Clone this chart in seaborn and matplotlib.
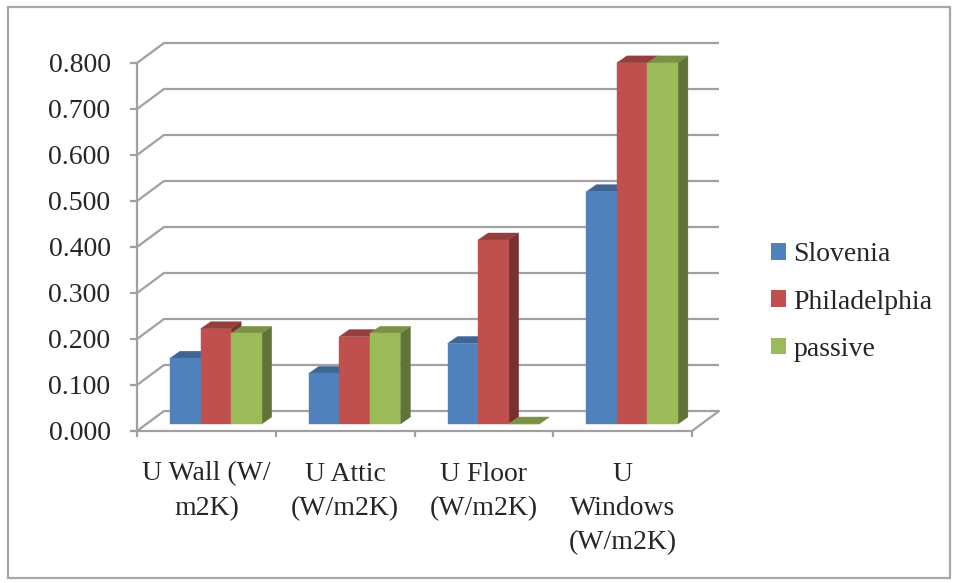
import numpy as np
import pandas as pd
import matplotlib.pyplot as plt
import seaborn as sns
from matplotlib.patches import Polygon, Rectangle, Patch
import matplotlib.colors as mcolors

# Données
categories = ['U Wall (W/\nm2K)', 'U Attic\n(W/m2K)', 'U Floor\n(W/m2K)', 'U\nWindows\n(W/m2K)']
series = ['Slovenia', 'Philadelphia', 'passive']
slovenia = [0.143, 0.110, 0.175, 0.505]
philadelphia = [0.207, 0.190, 0.400, 0.785]
passive = [0.197, 0.197, 0.000, 0.785]
colors = ['#4F81BD', '#C0504D', '#9BBB59']
yticks = [0.0, 0.1, 0.2, 0.3, 0.4, 0.5, 0.6, 0.7, 0.8]

df = pd.DataFrame({
    'cat': categories * 3,
    'series': np.repeat(series, len(categories)),
    'value': slovenia + philadelphia + passive,
})

sns.set_style('white')
plt.rcParams['font.family'] = ['Liberation Serif', 'DejaVu Serif']
grid_col = '#A0A0A0'

fig = plt.figure(figsize=(9.58, 5.83), dpi=100)
ax = fig.add_axes([137 / 958, 152 / 583, 555 / 958, 368 / 583])
sns.barplot(data=df, x='cat', y='value', hue='series', palette=colors,
            saturation=1, width=0.66, gap=0, legend=False, ax=ax,
            linewidth=0, edgecolor='none')
ax.set_xlim(-0.5, 3.5)
ax.set_ylim(0, 0.8)

# pixels -> unités de données
p0 = ax.transData.transform((0, 0))
p1 = ax.transData.transform((1, 1))
sx, sy = p1[0] - p0[0], p1[1] - p0[1]
def off(px, py):
    return px / sx, py / sy

bx, by = off(9.5, 7)     # plan des barres
ddx, ddy = off(10, 7)    # profondeur des barres
gx, gy = off(27, 20)     # mur du fond

# grille en perspective
for v in yticks:
    ax.plot([-0.5, -0.5 + gx, 3.5 + gx], [v, v + gy, v + gy], color=grid_col,
            lw=1.6, clip_on=False, zorder=1, solid_capstyle='butt')
ax.plot([3.5, 3.5 + gx], [0, gy], color=grid_col, lw=1.6, clip_on=False, zorder=1)

# barres 3D
bars = sorted(ax.patches, key=lambda r: r.get_x())
for i, r in enumerate(bars):
    x0, w, h = r.get_x(), r.get_width(), r.get_height()
    fc = np.array(mcolors.to_rgb(r.get_facecolor()))
    xl = x0 + bx
    x1 = xl + w
    side = fc * 0.62
    top = fc * 0.78
    z = 3 + i * 0.1
    ax.add_patch(Polygon([(x1, by), (x1 + ddx, by + ddy), (x1 + ddx, by + h + ddy), (x1, by + h)],
                         closed=True, facecolor=side, edgecolor=side, lw=0.3, clip_on=False, zorder=z))
    ax.add_patch(Polygon([(xl, by + h), (x1, by + h), (x1 + ddx, by + h + ddy), (xl + ddx, by + h + ddy)],
                         closed=True, facecolor=top, edgecolor=top, lw=0.3, clip_on=False, zorder=z + 0.01))
    r.set_x(xl)
    r.set_y(by)
    r.set_edgecolor(fc)
    r.set_linewidth(0.3)
    r.set_clip_on(False)
    r.set_zorder(z + 0.02)

# axes
for s in ['top', 'right']:
    ax.spines[s].set_visible(False)
for s in ['left', 'bottom']:
    ax.spines[s].set_color(grid_col)
    ax.spines[s].set_linewidth(1.6)
    ax.spines[s].set_zorder(6)
ax.set_yticks(yticks)
ax.set_yticklabels([f'{v:.3f}' for v in yticks], fontsize=20)
ax.tick_params(axis='y', length=5, width=1.6, color=grid_col, pad=14, left=True)
ax.set_xticks(range(len(categories)))
ax.set_xticklabels(categories, fontsize=20, linespacing=1.5, va='top')
ax.set_xticks(np.arange(-0.5, 4, 1), minor=True)
ax.tick_params(axis='x', which='major', length=0, pad=22)
ax.tick_params(axis='x', which='minor', length=4.5, width=1.6, color=grid_col, bottom=True)
ax.set_xlabel('')
ax.set_ylabel('')
ax.grid(False)

# légende
handles = [Patch(facecolor=c, edgecolor='none', label=s) for c, s in zip(colors, series)]
fig.legend(handles=handles, loc='center left', bbox_to_anchor=(771 / 958, 281 / 583),
           frameon=False, fontsize=20, handlelength=0.55, handleheight=0.55,
           handletextpad=0.25, labelspacing=0.8, borderpad=0, borderaxespad=0)

# cadre extérieur
fig.patches.append(Rectangle((8 / 958, 5 / 583), 942 / 958, 571 / 583, transform=fig.transFigure,
                             fill=False, edgecolor='#A6A6A6', lw=1.6))

fig.savefig('out.png', dpi=100)
